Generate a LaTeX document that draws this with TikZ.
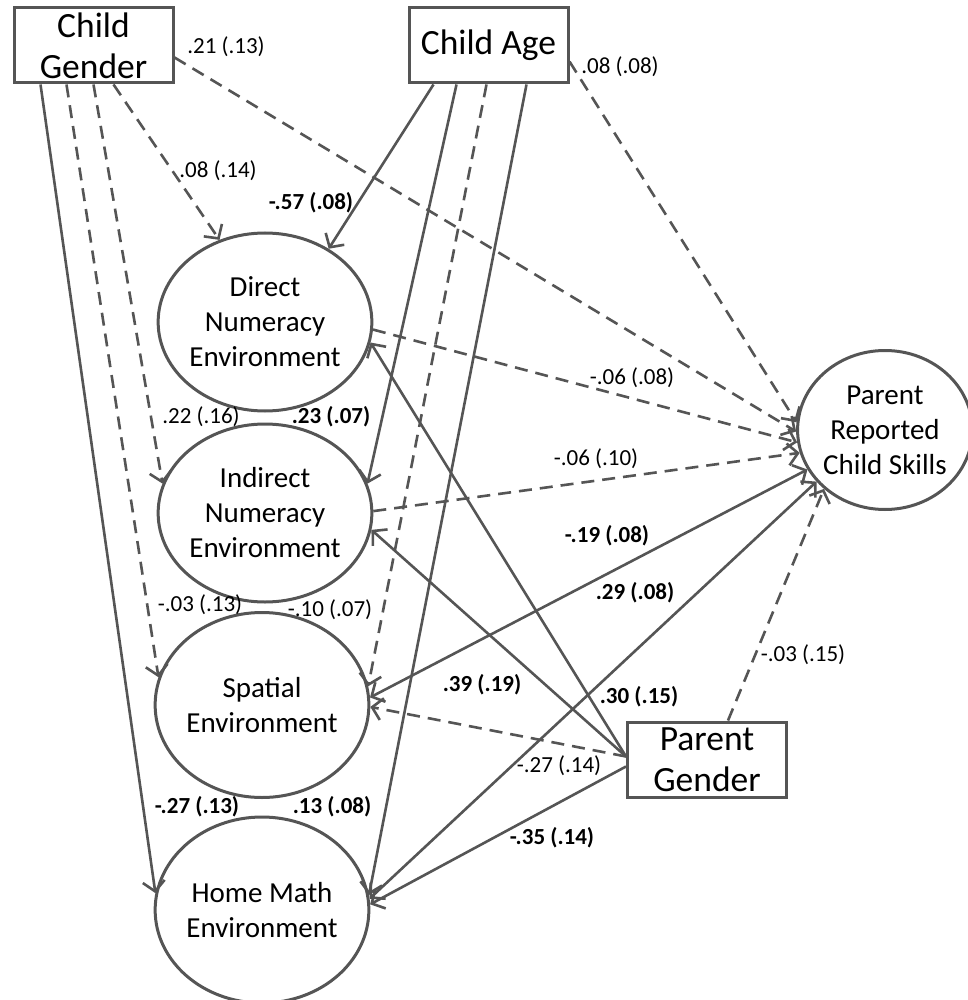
\documentclass[tikz,border=0pt]{standalone}
\usepackage{fontspec}
\setmainfont{Carlito}
\usetikzlibrary{arrows.meta,shapes.geometric}
\definecolor{lc}{HTML}{555555}
\tikzset{
  tipb/.tip={Straight Barb[length=10pt,width=22pt]},
  conn/.style={draw=lc, line width=2.6pt, -tipb},
  dsh/.style={conn, dash pattern=on 13pt off 8pt},
  twoway/.style={conn, tipb-tipb},
  box/.style={draw=lc, line width=3pt, minimum width=159pt, minimum height=75pt, inner sep=0pt, align=center, font=\fontsize{35.5}{41}\selectfont},
  lat/.style={ellipse, draw=lc, line width=3pt, inner sep=0pt, align=center, font=\fontsize{29}{35}\selectfont},
  lab/.style={font=\fontsize{23}{25}\selectfont, inner sep=0pt},
  blab/.style={font=\fontsize{23}{25}\selectfont\bfseries, inner sep=0pt},
}
\begin{document}
\begin{tikzpicture}[x=1pt,y=-1pt]
\useasboundingbox (0,0) rectangle (967,1000);
% nodes
\node[box] (CG) at (93.5,45.5) {Child\\Gender};
\node[box] (CA) at (488.5,45.5) {Child Age};
\node[box] (PG) at (707,759.5) {Parent\\Gender};
\node[lat, minimum width=185pt, minimum height=178pt] (DNE) at (265,322) {Direct\\Numeracy\\Environment};
\node[lat, minimum width=185pt, minimum height=178pt] (INE) at (265,513) {Indirect\\Numeracy\\Environment};
\node[lat, minimum width=190pt, minimum height=185pt] (SE) at (262,705) {Spatial\\Environment};
\node[lat, minimum width=190pt, minimum height=186pt] (HME) at (262,910) {Home Math\\Environment};
\node[lat, minimum width=163pt, minimum height=159pt] (PR) at (885,430) {Parent\\Reported\\Child Skills};
% child gender
\draw[conn] ([xshift=28pt]CG.south west) -- (HME.171);
\draw[dsh] ([xshift=54pt]CG.south west) -- (SE.165);
\draw[dsh] ([xshift=81pt]CG.south west) -- (INE.164);
\draw[dsh] ([xshift=101pt]CG.south west) -- (DNE.119);
\draw[dsh] ([yshift=-12pt]CG.east) -- (PR.181);
% child age
\draw[conn] ([xshift=26pt]CA.south west) -- (DNE.49);
\draw[conn] ([xshift=49pt]CA.south west) -- (INE.16);
\draw[dsh] ([xshift=79pt]CA.south west) -- (SE.10);
\draw[conn] ([xshift=119pt]CA.south west) -- (HME.8);
\draw[dsh] ([yshift=-16pt]CA.east) -- (PR.175);
% environments to PR
\draw[dsh] (DNE.356) -- (PR.188);
\draw[dsh] (INE.1) -- (PR.195);
\draw[twoway] (SE.4) -- (PR.207);
\draw[twoway] (HME.6) -- (PR.217);
% parent gender
\draw[conn] ([yshift=3pt]PG.west) -- (DNE.349);
\draw[conn] ([yshift=3pt]PG.west) -- (INE.351);
\draw[dsh] ([yshift=3pt]PG.west) -- (SE.359);
\draw[conn] ([yshift=-7pt]PG.west) -- (HME.3);
\draw[dsh] ([xshift=21pt]PG.north) -- (PR.224);
% labels
\node[lab] (l1) at (226,47) {.21 (.13)};
\node[lab] (l2) at (620,67) {.08 (.08)};
\node[lab] (l3) at (218,171) {.08 (.14)};
\node[blab] (l4) at (311,203) {-.57 (.08)};
\node[lab] (l5) at (201,417) {.22 (.16)};
\node[blab] (l6) at (331,417) {.23 (.07)};
\node[lab] (l7) at (200,605) {-.03 (.13)};
\node[lab] (l8) at (330,610) {-.10 (.07)};
\node[lab] (l9) at (632,378) {-.06 (.08)};
\node[lab] (l10) at (596,459) {-.06 (.10)};
\node[blab] (l11) at (607,536) {-.19 (.08)};
\node[blab] (l12) at (635,593) {.29 (.08)};
\node[lab] (l13) at (803,655) {-.03 (.15)};
\node[blab] (l14) at (482,685) {.39 (.19)};
\node[blab] (l15) at (639,697) {.30 (.15)};
\node[lab] (l16) at (559,766) {-.27 (.14)};
\node[blab] (l17) at (197,807) {-.27 (.13)};
\node[blab] (l18) at (332,807) {.13 (.08)};
\node[blab] (l19) at (552,838) {-.35 (.14)};
\end{tikzpicture}
\end{document}
